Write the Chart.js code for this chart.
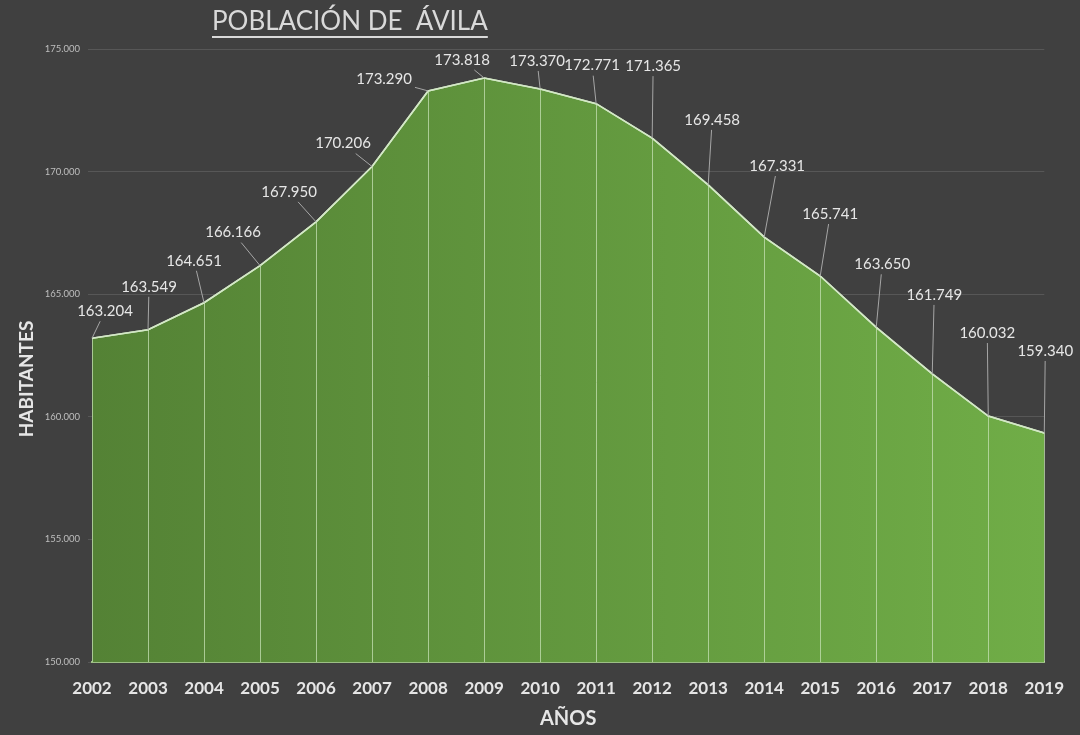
<!DOCTYPE html>
<html>
<head>
<meta charset="utf-8">
<title>Población de Ávila</title>
<script src="https://cdn.jsdelivr.net/npm/chart.js@4.4.1/dist/chart.umd.min.js"></script>
<style>
  html, body { margin: 0; padding: 0; background: #404040; }
  canvas { display: block; }
</style>
</head>
<body>
<canvas id="poblacion" width="1080" height="735"></canvas>
<script>
// Datos
const years = ["2002", "2003", "2004", "2005", "2006", "2007", "2008", "2009", "2010",
  "2011", "2012", "2013", "2014", "2015", "2016", "2017", "2018", "2019"];
const habitantes = [163204, 163549, 164651, 166166, 167950, 170206, 173290, 173818, 173370,
  172771, 171365, 169458, 167331, 165741, 163650, 161749, 160032, 159340];
const yTickValues = [150000, 155000, 160000, 165000, 170000, 175000];

// posición de cada etiqueta respecto a su punto (px)
const labelDx = [13, 1, -10, -27, -27, -29, -44, -22, -3, -4, 1, 4, 13, 10, 6, 2, -1, 1];
const labelDy = [-27, -43, -42, -33, -30, -23, -12, -18, -28, -38, -72, -65, -71, -62, -63, -79, -83, -82];

const fmt = v => String(v).replace(/\B(?=(\d{3})+(?!\d))/g, ".");

// Título subrayado y título del eje Y
const titlePlugin = {
  id: "tituloSubrayado",
  afterDraw(chart) {
    const c = chart.ctx;
    const text = "POBLACIÓN DE  ÁVILA";
    c.save();
    c.font = "26px Lato";
    c.fillStyle = "#d9d9d9";
    c.textBaseline = "middle";
    c.textAlign = "left";
    const x = 212, y = 22;
    c.fillText(text, x, y);
    const w = c.measureText(text).width;
    c.fillRect(x, y + 14, w, 2);

    // HABITANTES, un poco por debajo del centro como en el original
    c.translate(27, 379);
    c.rotate(-Math.PI / 2);
    c.font = "bold 19px Lato";
    c.fillStyle = "#e6e6e6";
    c.textAlign = "center";
    c.fillText("HABITANTES", 0, 0);
    c.restore();
  }
};

// Líneas verticales desde cada punto al eje y etiquetas de datos
const dropAndLabels = {
  id: "dropAndLabels",
  afterDatasetsDraw(chart) {
    const c = chart.ctx;
    const meta = chart.getDatasetMeta(0);
    const bottom = chart.chartArea.bottom;
    c.save();
    c.strokeStyle = "rgba(197, 224, 180, 0.75)";
    c.lineWidth = 1;
    meta.data.forEach(pt => {
      c.beginPath();
      c.moveTo(Math.round(pt.x) + 0.5, pt.y);
      c.lineTo(Math.round(pt.x) + 0.5, bottom);
      c.stroke();
    });
    // redibujar la línea por encima de las verticales
    c.strokeStyle = "#d3e8c6";
    c.lineWidth = 1.6;
    c.beginPath();
    meta.data.forEach((pt, i) => i ? c.lineTo(pt.x, pt.y) : c.moveTo(pt.x, pt.y));
    c.stroke();

    c.font = "15px Lato";
    c.textAlign = "center";
    c.textBaseline = "middle";
    meta.data.forEach((pt, i) => {
      const text = fmt(habitantes[i]);
      const lx = pt.x + labelDx[i], ly = pt.y + labelDy[i];
      const hw = c.measureText(text).width / 2 + 3, hh = 10;
      const dx = pt.x - lx, dy = pt.y - ly;
      const t = Math.min(dx ? hw / Math.abs(dx) : Infinity, dy ? hh / Math.abs(dy) : Infinity);
      if (t < 1) {
        c.strokeStyle = "#a6a6a6";
        c.lineWidth = 1;
        c.beginPath();
        c.moveTo(lx + dx * t, ly + dy * t);
        c.lineTo(pt.x, pt.y);
        c.stroke();
      }
      c.fillStyle = "#e6e6e6";
      c.fillText(text, lx, ly);
    });
    c.restore();
  }
};

const ctx = document.getElementById("poblacion").getContext("2d");

new Chart(ctx, {
  type: "line",
  data: {
    labels: years,
    datasets: [{
      label: "Habitantes",
      data: habitantes,
      borderColor: "#d3e8c6",
      borderWidth: 1.6,
      pointRadius: 0,
      tension: 0,
      fill: "start",
      backgroundColor: (context) => {
        const { chart } = context;
        const area = chart.chartArea;
        if (!area) return "#5f9640";
        const g = chart.ctx.createLinearGradient(area.left, 0, area.right, 0);
        g.addColorStop(0, "#548235");
        g.addColorStop(1, "#70ad47");
        return g;
      }
    }]
  },
  options: {
    responsive: false,
    devicePixelRatio: 1,
    animation: false,
    layout: { padding: { top: 49, right: 33, bottom: 0, left: 0 } },
    plugins: {
      legend: { display: false },
      tooltip: { enabled: false }
    },
    scales: {
      x: {
        offset: false,
        grid: { display: false, drawTicks: false },
        border: { display: true, color: "#9dbf86", width: 2 },
        ticks: {
          color: "#e6e6e6",
          font: { family: "Lato", size: 17, weight: "bold" },
          padding: 16,
          maxRotation: 0,
          autoSkip: false
        },
        title: {
          display: true,
          text: "AÑOS",
          color: "#e6e6e6",
          font: { family: "Lato", size: 20, weight: "bold" },
          padding: { top: 2, bottom: 4 }
        },
        afterFit(scale) { scale.height = 73; }
      },
      y: {
        min: 150000,
        max: 175000,
        afterBuildTicks(scale) { scale.ticks = yTickValues.map(v => ({ value: v })); },
        grid: { color: "#575757", lineWidth: 1, drawTicks: true, tickLength: 4 },
        border: { display: false },
        ticks: {
          color: "#bfbfbf",
          font: { family: "Lato", size: 9.5 },
          padding: 8,
          callback: v => fmt(v)
        },
        afterFit(scale) { scale.width = 92; }
      }
    }
  },
  plugins: [titlePlugin, dropAndLabels]
});
</script>
</body>
</html>
